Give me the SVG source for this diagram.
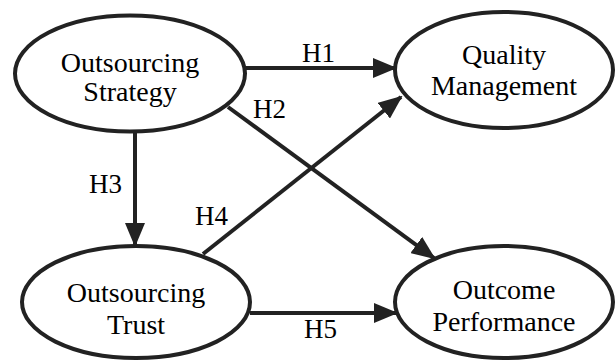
<svg xmlns="http://www.w3.org/2000/svg" width="616" height="360" viewBox="0 0 616 360">
<defs>
<marker id="ah" markerWidth="6" markerHeight="5" refX="5.5" refY="2.5" orient="auto" markerUnits="strokeWidth">
<path d="M0,0 L6,2.5 L0,5 Z" fill="#222"/>
</marker>
</defs>
<rect width="616" height="360" fill="#fff"/>
<g id="connectors" stroke="#222" stroke-width="4" marker-end="url(#ah)">
<line x1="245" y1="68" x2="395" y2="68"/>
<line x1="228" y1="107" x2="434" y2="258"/>
<line x1="135" y1="132" x2="135" y2="245"/>
<line x1="203" y1="254" x2="401" y2="97"/>
<line x1="250" y1="313" x2="396" y2="313"/>
</g>
<text x="302" y="62" style="font-family:'Liberation Serif',serif;font-size:27px">H1</text>
<text x="253" y="118" style="font-family:'Liberation Serif',serif;font-size:27px">H2</text>
<text x="89" y="193" style="font-family:'Liberation Serif',serif;font-size:27px">H3</text>
<text x="195" y="225" style="font-family:'Liberation Serif',serif;font-size:27px">H4</text>
<text x="304" y="338" style="font-family:'Liberation Serif',serif;font-size:27px">H5</text>
<g id="n1"><ellipse cx="130" cy="73.5" rx="115" ry="58" fill="#fff" stroke="#222" stroke-width="4"/>
<text x="130" y="72" text-anchor="middle" style="font-family:'Liberation Serif',serif;font-size:28px">Outsourcing</text>
<text x="130" y="101" text-anchor="middle" style="font-family:'Liberation Serif',serif;font-size:28px">Strategy</text></g>
<g id="n2"><ellipse cx="504" cy="70" rx="109" ry="58" fill="#fff" stroke="#222" stroke-width="4"/>
<text x="504" y="64" text-anchor="middle" style="font-family:'Liberation Serif',serif;font-size:28px">Quality</text>
<text x="504" y="95" text-anchor="middle" style="font-family:'Liberation Serif',serif;font-size:28px">Management</text></g>
<g id="n3"><ellipse cx="136" cy="302" rx="114" ry="56" fill="#fff" stroke="#222" stroke-width="4"/>
<text x="136" y="302" text-anchor="middle" style="font-family:'Liberation Serif',serif;font-size:28px">Outsourcing</text>
<text x="136" y="334" text-anchor="middle" style="font-family:'Liberation Serif',serif;font-size:28px">Trust</text></g>
<g id="n4"><ellipse cx="504" cy="302" rx="109" ry="56" fill="#fff" stroke="#222" stroke-width="4"/>
<text x="504" y="299" text-anchor="middle" style="font-family:'Liberation Serif',serif;font-size:28px">Outcome</text>
<text x="504" y="331" text-anchor="middle" style="font-family:'Liberation Serif',serif;font-size:28px">Performance</text></g>
</svg>
